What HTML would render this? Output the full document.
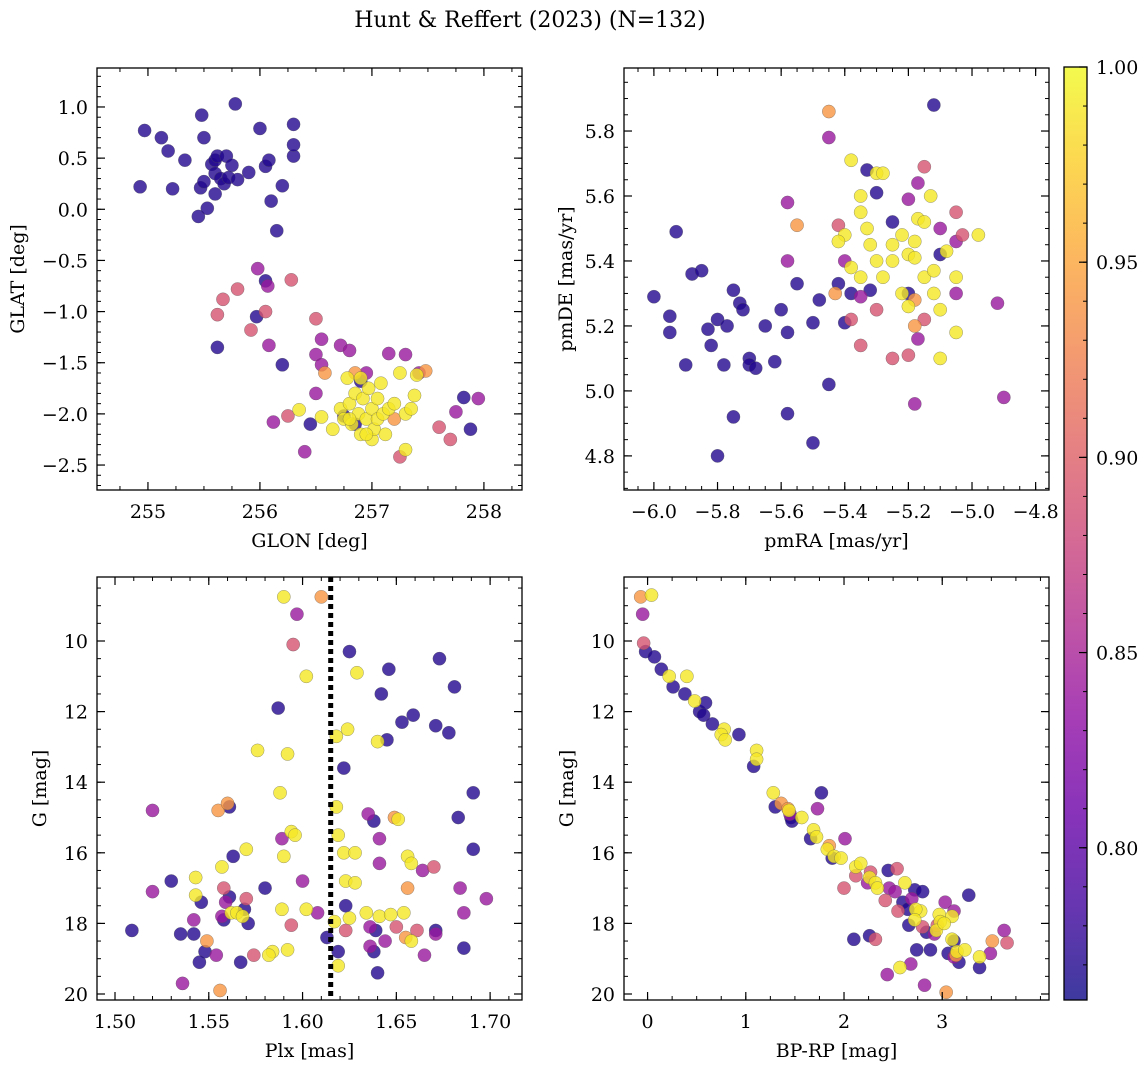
<!DOCTYPE html>
<html><head><meta charset="utf-8">
<style>
html,body{margin:0;padding:0;background:#fff;}
svg{display:block;font-family:"DejaVu Serif","Liberation Serif",serif;}
</style></head>
<body>
<svg id="fig" width="1148" height="1067" viewBox="0 0 1148 1067" xmlns="http://www.w3.org/2000/svg">
<defs>
<linearGradient id="cbgrad" x1="0" y1="1" x2="0" y2="0">
<stop offset="0" stop-color="#0d0887"/><stop offset="0.1" stop-color="#41049d"/><stop offset="0.2" stop-color="#6a00a8"/><stop offset="0.3" stop-color="#8f0da4"/><stop offset="0.4" stop-color="#b12a90"/><stop offset="0.5" stop-color="#cc4778"/><stop offset="0.6" stop-color="#e16462"/><stop offset="0.7" stop-color="#f2844b"/><stop offset="0.8" stop-color="#fca636"/><stop offset="0.9" stop-color="#fcce25"/><stop offset="1" stop-color="#f0f921"/>
</linearGradient>
</defs>
<text x="530" y="27" text-anchor="middle" font-size="22">Hunt &amp; Reffert (2023) (N=132)</text>
</svg>
<script>
const D=0.77,P=0.84,K=0.89,O=0.94,Y=0.99;
const p1Stars=[[254.93,0.22,D],[254.97,0.77,D],[255.12,0.70,D],[255.18,0.57,D],[255.22,0.20,D],[255.33,0.48,D],[255.45,-0.07,D],[255.47,0.21,D],[255.48,0.92,D],[255.5,0.27,D],[255.5,0.70,D],[255.53,0.01,D],[255.57,0.44,D],[255.6,0.48,D],[255.62,0.52,D],[255.6,0.15,D],[255.6,0.35,D],[255.65,0.30,D],[255.68,0.25,D],[255.7,0.52,D],[255.72,0.31,D],[255.75,0.43,D],[255.78,1.03,D],[255.8,0.29,D],[255.9,0.36,D],[256.0,0.79,D],[256.05,0.42,D],[256.08,0.48,D],[256.1,0.08,D],[256.15,-0.21,D],[256.2,0.23,D],[256.3,0.52,D],[256.3,0.63,D],[256.3,0.83,D],[256.05,-0.7,D],[255.62,-1.35,D],
[255.62,-1.03,K],[255.67,-0.88,K],[255.8,-0.78,K],[255.92,-1.18,K],[255.97,-1.05,D],[255.98,-0.58,P],[256.05,-1.0,K],[256.07,-0.75,P],[256.08,-1.33,P],[256.2,-1.52,D],[256.28,-0.69,K],[256.12,-2.08,P],[256.25,-2.02,K],[256.35,-1.96,Y],[256.4,-2.37,P],[256.5,-1.07,K],[256.55,-1.27,P],[256.5,-1.42,P],[256.55,-1.52,P],[256.58,-1.6,O],[256.5,-1.8,P],[256.45,-2.1,D],[256.55,-2.03,Y],[256.72,-1.33,P],[256.8,-1.38,P],[256.95,-1.6,P],[257.15,-1.41,P],[257.3,-1.42,P],[257.42,-1.6,P],[257.48,-1.58,O],[257.6,-2.13,K],[257.7,-2.25,K],[257.75,-1.98,P],[257.82,-1.84,D],[257.88,-2.15,D],[257.95,-1.85,P],[257.25,-2.42,K],[257.3,-2.35,Y],[256.85,-1.6,O],[257.2,-2.05,O],
[256.65,-2.15,Y],[256.72,-1.95,Y],[256.75,-2.05,Y],[256.78,-1.65,Y],[256.8,-1.9,Y],[256.82,-2.1,Y],[256.85,-1.8,Y],[256.88,-2.0,Y],[256.9,-2.2,Y],[256.92,-1.85,Y],[256.95,-2.05,Y],[256.97,-1.75,Y],[257.0,-1.95,Y],[257.0,-2.25,Y],[257.02,-2.15,Y],[257.05,-1.85,Y],[257.05,-2.05,Y],[257.08,-1.7,Y],[257.1,-2.0,Y],[257.15,-1.95,Y],[257.2,-1.9,Y],[257.25,-1.6,Y],[257.3,-2.0,Y],[257.35,-1.95,Y],[257.38,-1.82,Y],[257.4,-1.62,Y],[256.9,-1.65,Y],[256.95,-2.2,Y],[256.8,-2.05,Y],[257.12,-2.2,Y],[256.75,-2.02,D],[256.85,-2.1,D],[256.9,-1.68,D]];
const p2Stars=[[-6.0,5.29,D],[-5.95,5.23,D],[-5.95,5.18,D],[-5.93,5.49,D],[-5.9,5.08,D],[-5.88,5.36,D],[-5.85,5.37,D],[-5.83,5.19,D],[-5.82,5.14,D],[-5.8,5.22,D],[-5.8,4.8,D],[-5.78,5.08,D],[-5.77,5.2,D],[-5.75,5.31,D],[-5.75,4.92,D],[-5.73,5.27,D],[-5.72,5.25,D],[-5.7,5.1,D],[-5.7,5.08,D],[-5.68,5.07,D],[-5.65,5.2,D],[-5.62,5.09,D],[-5.6,5.25,D],[-5.58,5.18,D],[-5.55,5.33,D],[-5.5,5.21,D],[-5.48,5.28,D],[-5.45,5.02,D],[-5.5,4.84,D],[-5.58,4.93,D],[-5.42,5.33,D],[-5.4,5.21,D],[-5.38,5.3,D],[-5.33,5.68,D],[-5.3,5.61,D],[-5.25,5.52,D],[-5.2,5.3,D],[-5.12,5.88,D],[-5.1,5.42,D],[-5.32,5.31,D],
[-5.58,5.58,P],[-5.58,5.40,P],[-5.45,5.78,P],[-5.42,5.51,K],[-5.4,5.4,P],[-5.38,5.22,K],[-5.35,5.29,P],[-5.35,5.14,K],[-5.3,5.25,K],[-5.25,5.1,K],[-5.2,5.11,K],[-5.17,5.16,P],[-5.15,5.22,K],[-5.18,4.96,P],[-5.15,5.69,K],[-5.2,5.59,P],[-5.17,5.64,P],[-5.1,5.5,P],[-5.05,5.55,K],[-5.05,5.46,P],[-5.05,5.3,P],[-4.92,5.27,P],[-4.9,4.98,P],[-5.03,5.48,K],[-5.43,5.3,O],[-5.45,5.86,O],[-5.55,5.51,O],[-5.18,5.28,O],[-5.18,5.2,O],
[-5.38,5.71,Y],[-5.35,5.6,Y],[-5.35,5.55,Y],[-5.33,5.5,Y],[-5.32,5.45,Y],[-5.3,5.67,Y],[-5.3,5.4,Y],[-5.28,5.35,Y],[-5.25,5.45,Y],[-5.25,5.4,Y],[-5.22,5.48,Y],[-5.22,5.3,Y],[-5.2,5.26,Y],[-5.2,5.42,Y],[-5.18,5.46,Y],[-5.17,5.53,Y],[-5.15,5.35,Y],[-5.13,5.6,Y],[-5.12,5.3,Y],[-5.1,5.25,Y],[-5.1,5.1,Y],[-5.08,5.43,Y],[-5.05,5.18,Y],[-5.05,5.35,Y],[-4.98,5.48,Y],[-5.4,5.48,Y],[-5.38,5.38,Y],[-5.35,5.35,Y],[-5.15,5.52,Y],[-5.28,5.67,Y],[-5.42,5.46,Y],[-5.18,5.41,Y],[-5.12,5.37,Y]];
const p3Stars=[[1.59,8.75,Y],[1.61,8.75,O],[1.597,9.24,P],[1.595,10.1,K],[1.602,11.0,Y],[1.625,10.3,D],[1.629,10.9,Y],[1.646,10.8,D],[1.673,10.5,D],[1.681,11.3,D],[1.642,11.5,D],[1.618,12.7,Y],[1.624,12.5,Y],[1.587,11.9,D],[1.653,12.3,D],[1.659,12.1,D],[1.671,12.4,D],[1.678,12.6,D],[1.645,12.8,D],[1.64,12.85,Y],[1.576,13.1,Y],[1.592,13.2,Y],[1.622,13.6,D],[1.588,14.3,Y],[1.691,14.3,D],[1.52,14.8,P],[1.555,14.8,O],[1.56,14.6,O],[1.561,14.7,D],[1.618,14.7,Y],[1.635,14.9,P],[1.638,15.1,D],[1.649,15.0,O],[1.651,15.05,Y],[1.683,15.0,D],[1.594,15.4,Y],[1.596,15.5,Y],[1.589,15.6,P],[1.619,15.5,Y],[1.641,15.6,P],[1.57,15.9,Y],[1.563,16.1,D],[1.59,16.1,Y],[1.691,15.9,D],[1.557,16.4,Y],[1.641,16.3,P],[1.622,16.0,Y],[1.628,16.0,Y],[1.656,16.1,Y],[1.658,16.3,Y],[1.664,16.5,P],[1.67,16.4,K],[1.53,16.8,D],[1.543,16.7,Y],[1.52,17.1,P],[1.543,17.2,Y],[1.558,17.0,K],[1.58,17.0,D],[1.6,16.8,P],[1.623,16.8,Y],[1.628,16.85,Y],[1.656,17.0,O],[1.684,17.0,P],[1.57,17.3,K],[1.561,17.25,D],[1.559,17.4,P],[1.546,17.4,D],[1.569,17.6,D],[1.562,17.7,Y],[1.565,17.7,Y],[1.568,17.8,Y],[1.557,17.8,P],[1.589,17.6,Y],[1.602,17.6,Y],[1.608,17.7,P],[1.623,17.5,D],[1.634,17.7,Y],[1.641,17.8,Y],[1.647,17.75,Y],[1.654,17.7,Y],[1.686,17.7,P],[1.698,17.3,P],[1.558,17.9,D],[1.571,18.0,D],[1.542,17.9,P],[1.594,18.05,K],[1.617,17.95,Y],[1.625,17.85,Y],[1.623,18.2,K],[1.636,18.1,P],[1.639,18.2,D],[1.65,18.1,K],[1.661,18.2,K],[1.671,18.2,D],[1.671,18.3,P],[1.509,18.2,D],[1.535,18.3,D],[1.542,18.3,D],[1.549,18.5,O],[1.655,18.4,O],[1.658,18.5,Y],[1.613,18.4,D],[1.644,18.5,P],[1.636,18.65,P],[1.638,18.8,D],[1.619,18.8,D],[1.584,18.8,Y],[1.592,18.75,Y],[1.582,18.9,Y],[1.574,18.9,K],[1.665,18.9,P],[1.686,18.7,D],[1.548,18.8,D],[1.554,18.9,P],[1.545,19.1,D],[1.567,19.1,D],[1.619,19.2,Y],[1.64,19.4,D],[1.536,19.7,P],[1.556,19.9,O]];
const p4Stars=[[-0.07,8.75,O],[0.04,8.7,Y],[-0.05,9.24,P],[-0.04,10.06,K],[-0.02,10.3,D],[0.07,10.45,D],[0.14,10.8,D],[0.22,11.0,Y],[0.26,11.3,D],[0.4,11.0,Y],[0.38,11.5,D],[0.48,11.7,Y],[0.53,12.0,D],[0.59,11.75,D],[0.57,12.1,D],[0.66,12.35,D],[0.78,12.5,Y],[0.75,12.65,Y],[0.79,12.8,Y],[0.93,12.65,D],[1.11,13.1,Y],[1.11,13.35,Y],[1.08,13.55,D],[1.28,14.3,Y],[1.77,14.3,D],[1.36,14.6,O],[1.3,14.7,D],[1.43,14.75,O],[1.45,14.9,P],[1.73,14.75,P],[1.46,15.0,D],[1.47,15.1,D],[1.44,14.8,Y],[1.57,15.0,Y],[1.69,15.35,Y],[1.72,15.55,Y],[1.66,15.6,D],[1.85,15.8,O],[1.83,15.9,Y],[1.9,16.1,Y],[2.01,15.6,P],[1.88,16.15,D],[1.97,16.15,Y],[2.12,16.4,Y],[2.17,16.3,Y],[2.45,16.5,D],[2.54,16.45,K],[2.27,16.55,K],[2.12,16.65,K],[2.26,16.7,Y],[2.32,16.85,Y],[2.24,16.85,P],[2.0,17.0,K],[2.34,17.0,Y],[2.46,17.0,P],[2.52,17.1,P],[2.72,17.05,D],[2.8,17.1,D],[3.27,17.2,D],[2.6,17.4,D],[2.69,17.3,P],[2.62,16.85,Y],[3.03,17.4,P],[2.42,17.35,K],[2.55,17.65,K],[2.65,17.6,D],[2.78,17.65,Y],[2.73,17.6,Y],[2.97,17.75,Y],[3.12,17.65,P],[3.1,17.8,Y],[2.8,18.1,K],[2.72,17.9,Y],[2.98,17.95,Y],[2.94,18.2,Y],[2.66,18.05,D],[2.84,18.25,D],[2.95,18.05,K],[3.02,18.0,Y],[2.92,18.3,P],[3.12,18.5,D],[2.1,18.45,D],[2.26,18.35,D],[2.32,18.45,K],[3.1,18.45,Y],[3.51,18.5,O],[3.66,18.55,K],[2.74,18.75,D],[2.88,18.75,D],[3.15,18.8,Y],[3.23,18.75,Y],[3.14,18.9,O],[3.06,18.85,D],[3.38,18.95,Y],[3.49,18.85,P],[3.12,18.95,P],[3.17,19.1,D],[3.38,19.25,D],[2.57,19.25,Y],[2.68,19.15,P],[2.44,19.45,P],[3.63,18.2,P],[2.82,19.75,P],[3.04,19.95,O]];

const p1XTicks=[255,256,257,258], p1YTicks=[1.0,0.5,0.0,-0.5,-1.0,-1.5,-2.0,-2.5];
const p2XTicks=[-6.0,-5.8,-5.6,-5.4,-5.2,-5.0,-4.8], p2YTicks=[4.8,5.0,5.2,5.4,5.6,5.8];
const p3XTicks=[1.50,1.55,1.60,1.65,1.70], gTicks=[10,12,14,16,18,20];
const p4XTicks=[0,1,2,3];
const cbTicks=[0.80,0.85,0.90,0.95,1.00];
const plxLine=[1.615];

const svg=document.getElementById('fig');
const NS='http://www.w3.org/2000/svg';
function mk(tag,attrs,parent){const e=document.createElementNS(NS,tag);for(const k in attrs)e.setAttribute(k,attrs[k]);(parent||svg).appendChild(e);return e;}
const stops=[[0,13,8,135],[0.1,65,4,157],[0.2,106,0,168],[0.3,143,13,164],[0.4,177,42,144],[0.5,204,71,120],[0.6,225,100,98],[0.7,242,132,75],[0.8,252,166,54],[0.9,252,206,37],[1,240,249,33]];
const VMIN=0.761,VMAX=1.0;
function plasma(v){let t=(v-VMIN)/(VMAX-VMIN);t=Math.max(0,Math.min(1,t));for(let i=1;i<stops.length;i++){if(t<=stops[i][0]){const a=stops[i-1],b=stops[i],f=(t-a[0])/(b[0]-a[0]);return `rgb(${Math.round(a[1]+f*(b[1]-a[1]))},${Math.round(a[2]+f*(b[2]-a[2]))},${Math.round(a[3]+f*(b[3]-a[3]))})`;}}return 'rgb(240,249,33)';}
function fmt(v,d){return v.toFixed(d).replace('-','\u2212');}
const FS=19;

function panel(o){
  const {x0,x1,y0,y1,xmin,xmax,ymin,ymax,invY,name}=o;
  const g=mk('g',{});
  
  
  const sx=v=>x0+(v-xmin)/(xmax-xmin)*(x1-x0);
  const sy=invY?(v=>y0+(v-ymin)/(ymax-ymin)*(y1-y0)):(v=>y1-(v-ymin)/(ymax-ymin)*(y1-y0));
  const clipId=name+'-clip';
  const cp=mk('clipPath',{id:clipId},g);mk('rect',{x:x0,y:y0,width:x1-x0,height:y1-y0},cp);
  const pts=mk('g',{'clip-path':`url(#${clipId})`},g);
  
  
  const sorted=o.data.slice().sort((a,b)=>a[2]-b[2]);
  sorted.forEach(d=>{
    const c=mk('circle',{cx:sx(d[0]),cy:sy(d[1]),r:6.6,fill:plasma(d[2]),'fill-opacity':0.8,stroke:'#555','stroke-opacity':0.6,'stroke-width':0.5},pts);
    
    
  });
  if(o.vline){o.vline.forEach(v=>{const l=mk('line',{x1:sx(v),x2:sx(v),y1:y0,y2:y1,stroke:'#000','stroke-width':5,'stroke-dasharray':'5,4'},pts);
    
    });}
  mk('rect',{x:x0,y:y0,width:x1-x0,height:y1-y0,fill:'none',stroke:'#000','stroke-width':1.3},g);
  for(let v=Math.ceil(xmin/o.xminor-1e-9)*o.xminor;v<=xmax+1e-9;v+=o.xminor){const X=sx(v);
    mk('line',{x1:X,x2:X,y1:y1,y2:y1-4,stroke:'#000','stroke-width':1},g);mk('line',{x1:X,x2:X,y1:y0,y2:y0+4,stroke:'#000','stroke-width':1},g);}
  const ylo=Math.min(ymin,ymax),yhi=Math.max(ymin,ymax);
  for(let v=Math.ceil(ylo/o.yminor-1e-9)*o.yminor;v<=yhi+1e-9;v+=o.yminor){const Yp=sy(v);
    mk('line',{x1:x0,x2:x0+4,y1:Yp,y2:Yp,stroke:'#000','stroke-width':1},g);mk('line',{x1:x1,x2:x1-4,y1:Yp,y2:Yp,stroke:'#000','stroke-width':1},g);}
  o.xticks.forEach(v=>{const X=sx(v);
    mk('line',{x1:X,x2:X,y1:y1,y2:y1-8,stroke:'#000','stroke-width':1.2},g);mk('line',{x1:X,x2:X,y1:y0,y2:y0+8,stroke:'#000','stroke-width':1.2},g);
    const t=mk('text',{x:X,y:y1+28,'text-anchor':'middle','font-size':FS},g);t.textContent=fmt(v,o.xdec);
    
    });
  o.yticks.forEach(v=>{const Yp=sy(v);
    mk('line',{x1:x0,x2:x0+8,y1:Yp,y2:Yp,stroke:'#000','stroke-width':1.2},g);mk('line',{x1:x1,x2:x1-8,y1:Yp,y2:Yp,stroke:'#000','stroke-width':1.2},g);
    const t=mk('text',{x:x0-9,y:Yp+7,'text-anchor':'end','font-size':FS},g);t.textContent=fmt(v,o.ydec);
    
    });
  const xl=mk('text',{x:(x0+x1)/2,y:y1+57,'text-anchor':'middle','font-size':FS},g);xl.textContent=o.xlabel;
  
  
  const yx=o.ylabelX,yy=(y0+y1)/2;
  const yl=mk('text',{x:yx,y:yy,'text-anchor':'middle','font-size':FS,transform:`rotate(-90 ${yx} ${yy})`},g);yl.textContent=o.ylabel;
  
  
}
panel({name:'glon-glat-panel',x0:97,x1:522,y0:68,y1:490,xmin:254.545,xmax:258.34,ymin:-2.744,ymax:1.381,data:p1Stars,xticks:p1XTicks,yticks:p1YTicks,xminor:0.25,yminor:0.1,xdec:0,ydec:1,xlabel:'GLON [deg]',ylabel:'GLAT [deg]',ylabelX:24});
panel({name:'proper-motion-panel',x0:624,x1:1049,y0:68,y1:490,xmin:-6.094,xmax:-4.758,ymin:4.695,ymax:5.994,data:p2Stars,xticks:p2XTicks,yticks:p2YTicks,xminor:0.05,yminor:0.05,xdec:1,ydec:1,xlabel:'pmRA [mas/yr]',ylabel:'pmDE [mas/yr]',ylabelX:572});
panel({name:'parallax-mag-panel',x0:97,x1:522,y0:577,y1:1000,xmin:1.4904,xmax:1.717,ymin:8.187,ymax:20.17,invY:true,data:p3Stars,xticks:p3XTicks,yticks:gTicks,xminor:0.01,yminor:0.5,xdec:2,ydec:0,xlabel:'Plx [mas]',ylabel:'G [mag]',ylabelX:46,vline:plxLine});
panel({name:'cmd-panel',x0:624,x1:1049,y0:577,y1:1000,xmin:-0.24,xmax:4.087,ymin:8.187,ymax:20.17,invY:true,data:p4Stars,xticks:p4XTicks,yticks:gTicks,xminor:0.25,yminor:0.5,xdec:0,ydec:0,xlabel:'BP-RP [mag]',ylabel:'G [mag]',ylabelX:573});

const cb=mk('g',{});


const cbX0=1064,cbX1=1087,cbY0=67,cbY1=1000;
const cy=v=>cbY1-(v-VMIN)/(VMAX-VMIN)*(cbY1-cbY0);
mk('rect',{x:cbX0,y:cbY0,width:cbX1-cbX0,height:cbY1-cbY0,fill:'url(#cbgrad)','fill-opacity':0.8},cb);
mk('rect',{x:cbX0,y:cbY0,width:cbX1-cbX0,height:cbY1-cbY0,fill:'none',stroke:'#000','stroke-width':1.3},cb);
for(let v=0.77;v<=1.0001;v+=0.01){mk('line',{x1:cbX1,x2:cbX1-4,y1:cy(v),y2:cy(v),stroke:'#000','stroke-width':1},cb);}
cbTicks.forEach(v=>{const Yp=cy(v);mk('line',{x1:cbX1,x2:cbX1-8,y1:Yp,y2:Yp,stroke:'#000','stroke-width':1.2},cb);
  const t=mk('text',{x:cbX1+9,y:Yp+7,'font-size':FS},cb);t.textContent=v.toFixed(2);
  
  });
</script>
</body></html>
